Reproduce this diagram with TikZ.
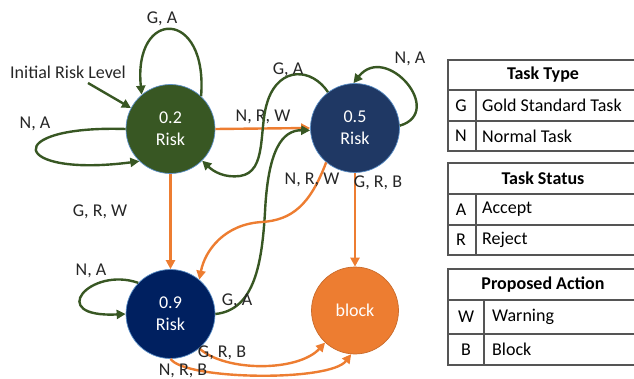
\documentclass[tikz,border=0pt]{standalone}
\usepackage{fontspec}
\setmainfont{Carlito}
\usetikzlibrary{arrows.meta}
\definecolor{dgreen}{HTML}{385723}
\definecolor{orng}{HTML}{ED7D31}
\definecolor{blueA}{HTML}{1F3864}
\definecolor{blueB}{HTML}{002060}
\definecolor{rim}{HTML}{5B8FC7}
\definecolor{lbltext}{HTML}{262626}
\definecolor{tline}{HTML}{555555}
\begin{document}
\begin{tikzpicture}[x=1pt,y=-1pt,
  state/.style={circle, draw=rim, line width=0.7pt, minimum size=89pt, inner sep=0pt,
    text=white, font=\fontsize{18}{22}\selectfont, align=center},
  garrow/.style={draw=dgreen, line width=2.4pt, -{Triangle[length=9pt,width=9pt]}},
  oarrow/.style={draw=orng, line width=2.4pt, -{Triangle[length=9pt,width=9pt]}},
  lbl/.style={font=\fontsize{18}{22}\selectfont, text=lbltext, inner sep=0pt},
  tbox/.style={draw=tline, line width=1.3pt},
  thead/.style={font=\fontsize{18}{22}\selectfont\bfseries, text=black, inner sep=0pt},
  tcell/.style={font=\fontsize{18}{22}\selectfont, text=black, inner sep=0pt},
]
\useasboundingbox (0,0) rectangle (634,379);
% states
\node[state, fill=dgreen] (s02) at (170.5,129) {0.2\\Risk};
\node[state, fill=blueA] (s05) at (355,128) {0.5\\Risk};
\node[state, fill=blueB] (s09) at (170.5,314) {0.9\\Risk};
\node[state, fill=orng, draw=orng!85!black, minimum size=87pt] (blk) at (355,310.5) {block};

% initial
\node[lbl] (init) at (68,72) {Initial Risk Level};
\coordinate (ia) at (88,83);
\draw[garrow] (ia) -- (s02.152);

% 0.2 loops
\draw[garrow] (s02.47) .. controls (208,8) and (133,8) .. (s02.130);
\node[lbl] (l1) at (162,19) {G, A};
\draw[garrow] (s02.180) .. controls (0,125) and (10,178) .. (s02.226);
\node[lbl] (l2) at (35,124) {N, A};

% 0.2 -> 0.5
\draw[oarrow] (s02.east) -- (s05.west);
\node[lbl] (l3) at (263,117) {N, R, W};

% 0.5 -> 0.2 green
\draw[garrow] (s05.127) .. controls (312,68) and (280,66) .. (268,100)
  .. controls (258,128) and (268,172) .. (240,176)
  .. controls (225,178) and (214,172) .. (s02.-45);
\node[lbl] (l4) at (288,70) {G, A};

% 0.5 self loop
\draw[garrow] (s05.3) .. controls (446,112) and (386,42) .. (s05.92);
\node[lbl] (l5) at (410,59) {N, A};

% 0.9 -> 0.5 green
\draw[garrow] (s09.east) .. controls (255,310) and (262,262) .. (265,212)
  .. controls (268,150) and (282,130) .. (s05.183);
\node[lbl] (l6) at (237,301) {G, A};

% 0.2 -> 0.9
\draw[oarrow] (s02.south) -- (s09.north);
\node[lbl] (l7) at (100,212) {G, R, W};

% 0.5 -> 0.9 orange
\draw[oarrow] (s05.-130) .. controls (310,205) and (292,220) .. (262,222)
  .. controls (225,224) and (205,250) .. (s09.50);
\node[lbl] (l8) at (312,180) {N, R, W};

% 0.5 -> block
\draw[oarrow] (s05.south) -- (blk.north);
\node[lbl] (l9) at (378,183) {G, R, B};

% 0.9 self loop
\draw[garrow] (s09.136) .. controls (90,266) and (45,318) .. (s09.180);
\node[lbl] (l10) at (91,271) {N, A};

% 0.9 -> block
\draw[oarrow] (s09.-50) .. controls (225,372) and (298,372) .. (blk.-133);
\node[lbl] (l11) at (222,353) {G, R, B};
\draw[oarrow] (s09.south) .. controls (185,380) and (330,382) .. (blk.-95);
\node[lbl] (l12) at (183,371) {N, R, B};

% tables
\draw[tbox] (448,60) rectangle (640,151);
\draw[tbox] (448,90) -- (640,90);
\draw[tbox] (448,121) -- (640,121);
\draw[tbox] (476,90) -- (476,151);
\node[thead] (tt) at (543,75) {Task Type};
\node[tcell] (tg) at (461,105.5) {G};
\node[tcell, anchor=west] (tgd) at (482,105.5) {Gold Standard Task};
\node[tcell] (tn) at (461,136) {N};
\node[tcell, anchor=west] (tnd) at (482,136) {Normal Task};

\draw[tbox] (448,163) rectangle (640,255);
\draw[tbox] (448,194) -- (640,194);
\draw[tbox] (448,225) -- (640,225);
\draw[tbox] (476,194) -- (476,255);
\node[thead] (ts) at (543,178.5) {Task Status};
\node[tcell] (ta) at (461,209.5) {A};
\node[tcell, anchor=west] (tad) at (482,209.5) {Accept};
\node[tcell] (tr) at (461,240) {R};
\node[tcell, anchor=west] (trd) at (482,240) {Reject};

\draw[tbox] (448,269) rectangle (640,365);
\draw[tbox] (448,300) -- (640,300);
\draw[tbox] (448,334) -- (640,334);
\draw[tbox] (484,300) -- (484,365);
\node[thead] (tp) at (543,284.5) {Proposed Action};
\node[tcell] (tw) at (466,317) {W};
\node[tcell, anchor=west] (twd) at (492,317) {Warning};
\node[tcell] (tb) at (466,349.5) {B};
\node[tcell, anchor=west] (tbd) at (492,349.5) {Block};
\end{tikzpicture}
\end{document}
